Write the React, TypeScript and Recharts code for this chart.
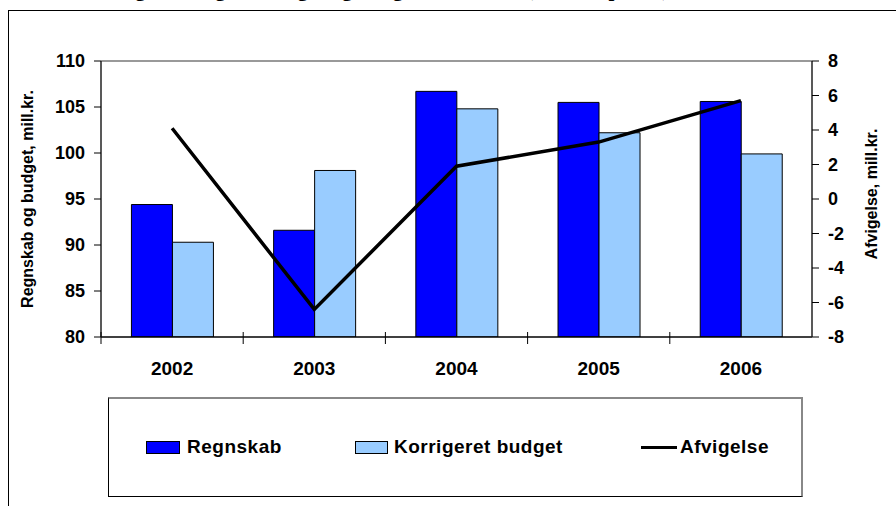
import React from 'react';
import { ComposedChart, Bar, Line, XAxis, YAxis, ReferenceLine } from 'recharts';

const years = ['2002', '2003', '2004', '2005', '2006'];
const regnskab = [94.4, 91.6, 106.7, 105.5, 105.6];
const budget = [90.3, 98.1, 104.8, 102.2, 99.9];
const afvigelse = [4.1, -6.4, 1.9, 3.3, 5.7];
const leftTicks = [80, 85, 90, 95, 100, 105, 110];
const rightTicks = [-8, -6, -4, -2, 0, 2, 4, 6, 8];

const data = years.map((y, i) => ({
  year: y,
  regnskab: regnskab[i],
  budget: budget[i],
  afvigelse: afvigelse[i],
}));

const FONT = '"Liberation Sans", Arial, sans-serif';
const W = 896;
const H = 506;
const PLOT_L = 101;
const PLOT_R = 812;
const BAND = (PLOT_R - PLOT_L) / years.length;

const XTick = (props: any) => {
  const { x, y, payload } = props;
  const bx = x - BAND / 2;
  return (
    <g>
      <line x1={bx} x2={bx} y1={y - 5} y2={y + 7} stroke="#000" strokeWidth={1} />
      <text x={x} y={y + 38} textAnchor="middle" fontFamily={FONT} fontWeight="bold" fontSize={19} fill="#000">
        {payload.value}
      </text>
    </g>
  );
};

const LeftLabel = () => (
  <text
    x={27}
    y={199}
    transform="rotate(-90 27 199)"
    textAnchor="middle"
    dominantBaseline="central"
    fontFamily={FONT}
    fontWeight="bold"
    fontSize={16}
    fill="#000"
  >
    Regnskab og budget, mill.kr.
  </text>
);

const RightLabel = () => (
  <text
    x={871}
    y={194}
    transform="rotate(-90 871 194)"
    textAnchor="middle"
    dominantBaseline="central"
    fontFamily={FONT}
    fontWeight="bold"
    fontSize={16}
    fill="#000"
  >
    Afvigelse, mill.kr.
  </text>
);

const tickStyle = { fontFamily: FONT, fontWeight: 'bold' as const, fontSize: 18, fill: '#000' };

export default function App() {
  return (
    <div style={{ position: 'absolute', left: 0, top: 0, width: W, height: H, overflow: 'hidden', background: '#fff' }}>
      <div
        style={{
          position: 'absolute',
          left: 0,
          top: -23,
          width: 780,
          lineHeight: '24px',
          textAlign: 'center',
          fontFamily: '"Liberation Serif", "Times New Roman", serif',
          fontWeight: 'bold',
          fontSize: 21,
          whiteSpace: 'nowrap',
        }}
      >
        Regnskab og bevillinger og budget, 2002-2006 (løbende priser)
      </div>
      <div
        style={{
          position: 'absolute',
          left: 8,
          top: 10,
          width: 900,
          height: 520,
          border: '1.5px solid #000',
          boxSizing: 'border-box',
        }}
      />
      <div style={{ position: 'absolute', left: 0, top: 0 }}>
        <ComposedChart
          width={W}
          height={H}
          data={data}
          margin={{ top: 61, right: 0, bottom: 129, left: 0 }}
          barCategoryGap="21.4%"
          barGap={0}
        >
          <XAxis
            dataKey="year"
            xAxisId="x"
            height={40}
            tickLine={false}
            tickSize={0}
            tickMargin={0}
            axisLine={{ stroke: '#000', strokeWidth: 1.5 }}
            tick={<XTick />}
            interval={0}
          />
          <YAxis
            yAxisId="left"
            orientation="left"
            width={PLOT_L}
            domain={[80, 110]}
            ticks={leftTicks}
            interval={0}
            tickSize={7}
            tickMargin={9}
            tickLine={{ stroke: '#000' }}
            axisLine={{ stroke: '#222', strokeWidth: 1.5 }}
            tick={tickStyle}
            label={<LeftLabel />}
            allowDataOverflow
          />
          <YAxis
            yAxisId="right"
            orientation="right"
            width={W - PLOT_R}
            domain={[-8, 8]}
            ticks={rightTicks}
            interval={0}
            tickSize={7}
            tickMargin={9}
            tickLine={{ stroke: '#000' }}
            axisLine={{ stroke: '#222', strokeWidth: 1.5 }}
            tick={tickStyle}
            label={<RightLabel />}
            allowDataOverflow
          />
          <ReferenceLine yAxisId="left" xAxisId="x" y={110} stroke="#999" strokeWidth={2} />
          <Bar xAxisId="x" yAxisId="left" dataKey="regnskab" name="Regnskab" fill="#0000FF" stroke="#000" strokeWidth={1} isAnimationActive={false} />
          <Bar xAxisId="x" yAxisId="left" dataKey="budget" name="Korrigeret budget" fill="#99CCFF" stroke="#000" strokeWidth={1} isAnimationActive={false} />
          <Line
            xAxisId="x"
            yAxisId="right"
            type="linear"
            dataKey="afvigelse"
            name="Afvigelse"
            stroke="#000"
            strokeWidth={3.5}
            dot={false}
            isAnimationActive={false}
          />
        </ComposedChart>
      </div>
      <div
        style={{
          position: 'absolute',
          left: 108,
          top: 397,
          width: 695,
          height: 100,
          boxSizing: 'border-box',
          borderLeft: '1px solid #000',
          borderBottom: '1.5px solid #000',
          borderTop: '2px solid #888',
          borderRight: '2px solid #888',
          fontFamily: FONT,
          fontWeight: 'bold',
          fontSize: 19,
          letterSpacing: '0.5px',
          color: '#000',
        }}
      >
        <div style={{ position: 'absolute', left: 37, top: 42, width: 34, height: 13, background: '#0000FF', border: '1px solid #000', boxSizing: 'border-box' }} />
        <div style={{ position: 'absolute', left: 78, top: 37, lineHeight: '22px', whiteSpace: 'nowrap' }}>Regnskab</div>
        <div style={{ position: 'absolute', left: 246, top: 42, width: 33, height: 13, background: '#99CCFF', border: '1px solid #000', boxSizing: 'border-box' }} />
        <div style={{ position: 'absolute', left: 285, top: 37, lineHeight: '22px', whiteSpace: 'nowrap' }}>Korrigeret budget</div>
        <div style={{ position: 'absolute', left: 532, top: 47, width: 36, height: 3, background: '#000' }} />
        <div style={{ position: 'absolute', left: 571, top: 37, lineHeight: '22px', whiteSpace: 'nowrap' }}>Afvigelse</div>
      </div>
    </div>
  );
}
